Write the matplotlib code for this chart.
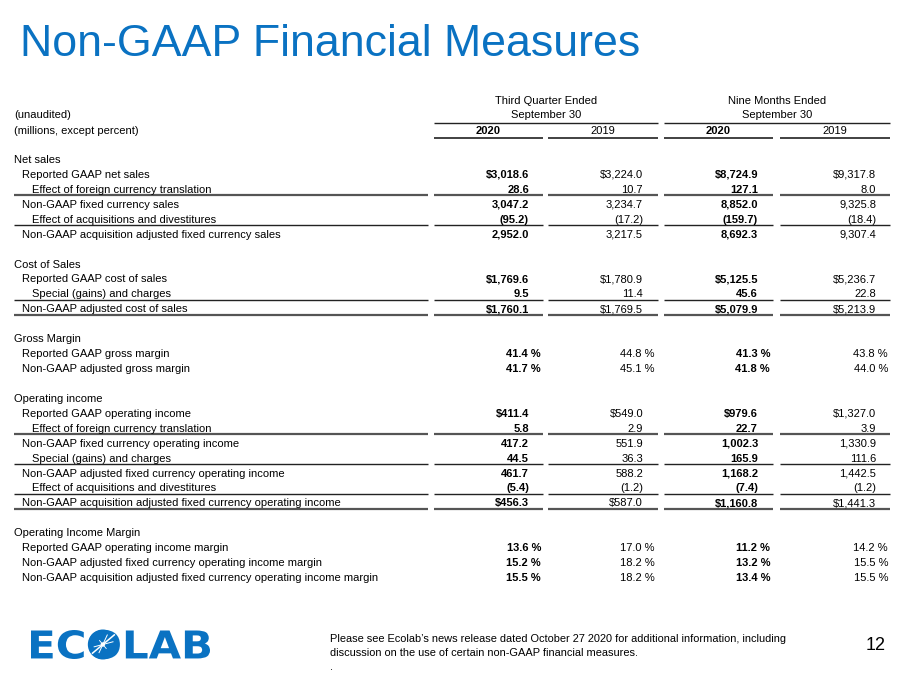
import matplotlib
matplotlib.use("Agg")
import matplotlib.pyplot as plt
from matplotlib.textpath import TextPath
from matplotlib.patches import PathPatch, Circle
from matplotlib.font_manager import FontProperties
from matplotlib.transforms import Affine2D
import numpy as np

plt.rcParams['font.family'] = ['Liberation Sans', 'DejaVu Sans']

# ---------------- data ----------------
title = "Non-GAAP Financial Measures"
group_headers = ["Third Quarter Ended", "Nine Months Ended"]
group_sub = "September 30"
year_headers = ["2020", "2019", "2020", "2019"]

row_labels = [
    "Net sales",
    "Reported GAAP net sales",
    "Effect of foreign currency translation",
    "Non-GAAP fixed currency sales",
    "Effect of acquisitions and divestitures",
    "Non-GAAP acquisition adjusted fixed currency sales",
    "",
    "Cost of Sales",
    "Reported GAAP cost of sales",
    "Special (gains) and charges",
    "Non-GAAP adjusted cost of sales",
    "",
    "Gross Margin",
    "Reported GAAP gross margin",
    "Non-GAAP adjusted gross margin",
    "",
    "Operating income",
    "Reported GAAP operating income",
    "Effect of foreign currency translation",
    "Non-GAAP fixed currency operating income",
    "Special (gains) and charges",
    "Non-GAAP adjusted fixed currency operating income",
    "Effect of acquisitions and divestitures",
    "Non-GAAP acquisition adjusted fixed currency operating income",
    "",
    "Operating Income Margin",
    "Reported GAAP operating income margin",
    "Non-GAAP adjusted fixed currency operating income margin",
    "Non-GAAP acquisition adjusted fixed currency operating income margin",
]
row_indent = [0, 1, 2, 1, 2, 1, 0, 0, 1, 2, 1, 0, 0, 1, 1, 0, 0, 1, 2, 1, 2, 1, 2, 1, 0, 0, 1, 1, 1]
row_format = ['hdr', '$', 'n', 'n', 'n', 'n', None, 'hdr', '$', 'n', '$', None, 'hdr', '%', '%', None,
              'hdr', '$', 'n', 'n', 'n', 'n', 'n', '$', None, 'hdr', '%', '%', '%']

q3_2020 = [None, 3018.6, 28.6, 3047.2, -95.2, 2952.0, None, None, 1769.6, 9.5, 1760.1, None, None, 41.4, 41.7, None,
           None, 411.4, 5.8, 417.2, 44.5, 461.7, -5.4, 456.3, None, None, 13.6, 15.2, 15.5]
q3_2019 = [None, 3224.0, 10.7, 3234.7, -17.2, 3217.5, None, None, 1780.9, 11.4, 1769.5, None, None, 44.8, 45.1, None,
           None, 549.0, 2.9, 551.9, 36.3, 588.2, -1.2, 587.0, None, None, 17.0, 18.2, 18.2]
nm_2020 = [None, 8724.9, 127.1, 8852.0, -159.7, 8692.3, None, None, 5125.5, 45.6, 5079.9, None, None, 41.3, 41.8, None,
           None, 979.6, 22.7, 1002.3, 165.9, 1168.2, -7.4, 1160.8, None, None, 11.2, 13.2, 13.4]
nm_2019 = [None, 9317.8, 8.0, 9325.8, -18.4, 9307.4, None, None, 5236.7, 22.8, 5213.9, None, None, 43.8, 44.0, None,
           None, 1327.0, 3.9, 1330.9, 111.6, 1442.5, -1.2, 1441.3, None, None, 14.2, 15.5, 15.5]
columns = [q3_2020, q3_2019, nm_2020, nm_2019]
col_bold = [True, False, True, False]

rules = [(3, 'above', 'g'), (5, 'above', 'k'),
         (10, 'above', 'k'), (10, 'below', 'g'),
         (19, 'above', 'g'), (21, 'above', 'k'), (23, 'above', 'k'), (23, 'below', 'g')]

footnote = ["Please see Ecolab\u2019s news release dated October 27 2020 for additional information, including",
            "discussion on the use of certain non-GAAP financial measures.",
            "."]
page_no = "12"

# ---------------- layout ----------------
BLUE = '#0A72C2'
W, H = 900, 675
fig = plt.figure(figsize=(9, 6.75), dpi=100)
ax = fig.add_axes([0, 0, 1, 1])
ax.set_xlim(0, W)
ax.set_ylim(H, 0)
ax.axis('off')

ax.text(20, 56, title, fontsize=32.2, color=BLUE, va='baseline', ha='left')

FS = 8.0
y0, dy = 158.0, 14.93
BASE = 5.0
label_x = [14, 22, 32]
col_right = [529, 643, 758, 876]
col_seg = [(434, 543), (548, 658), (664, 773), (780, 890)]
label_seg = (14, 428)

# header
hb = [104.3, 117.8, 134.0]
ax.text(14, hb[1], "(unaudited)", fontsize=FS, va='baseline')
ax.text(14, hb[2], "(millions, except percent)", fontsize=FS, va='baseline')
for g, (a, b) in enumerate([(col_seg[0][0], col_seg[1][1]), (col_seg[2][0], col_seg[3][1])]):
    cx = (a + b) / 2
    ax.text(cx, hb[0], group_headers[g], fontsize=FS, ha='center', va='baseline')
    ax.text(cx, hb[1], group_sub, fontsize=FS, ha='center', va='baseline')
    ax.plot([a, b], [122.5, 122.5], color='#222222', lw=1.0, solid_capstyle='butt')
for i, (a, b) in enumerate(col_seg):
    ax.text((a + b) / 2, hb[2], year_headers[i], fontsize=FS, ha='center', va='baseline',
            fontweight='bold' if col_bold[i] else 'normal')
    ax.plot([a, b], [137.8, 137.8], color='#333333', lw=1.3, solid_capstyle='butt')


def fmt(v, f):
    s = f"{abs(v):,.1f}"
    if f == '$':
        s = '$' + s
    if v < 0:
        s = '(' + s + ')'
    return s


for r, lab in enumerate(row_labels):
    yb = y0 + r * dy + BASE
    if lab:
        ax.text(label_x[row_indent[r]], yb, lab, fontsize=FS, va='baseline', ha='left')
    f = row_format[r]
    if f in ('$', 'n', '%'):
        for c, col in enumerate(columns):
            v = col[r]
            w = 'bold' if col_bold[c] else 'normal'
            if f == '%':
                ax.text(col_right[c] + 12, yb, f"{v:.1f} %", fontsize=FS, va='baseline', ha='right', fontweight=w)
            else:
                ax.text(col_right[c], yb, fmt(v, f), fontsize=FS, va='baseline', ha='right', fontweight=w)

for r, pos, st in rules:
    y = y0 + r * dy + (-7.3 if pos == 'above' else 7.8)
    color, lw = ('#555555', 1.6) if st == 'g' else ('#222222', 1.0)
    for a, b in [label_seg] + col_seg:
        ax.plot([a, b], [y, y], color=color, lw=lw, solid_capstyle='butt')

# footer
for i, line in enumerate(footnote):
    ax.text(330, 641.5 + i * 14.5, line, fontsize=7.9, va='baseline', ha='left')
ax.text(886, 645, page_no, fontsize=13, va='center', ha='right')

# logo
fp = FontProperties(family='DejaVu Sans', weight='bold')
tp = TextPath((0, 0), "ECOLAB", size=10, prop=fp)
bb = tp.get_extents()
lx0, lx1, ltop, lbot = 31, 210, 630, 659
sx = (lx1 - lx0) / bb.width
sy = (lbot - ltop) / bb.height
tr = Affine2D().translate(-bb.x0, -bb.y0).scale(sx, -sy).translate(lx0, lbot)
ax.add_patch(PathPatch(tr.transform_path(tp), fc=BLUE, ec='none', lw=0))
ec_bb = TextPath((0, 0), "EC", size=10, prop=fp).get_extents()
eco_bb = TextPath((0, 0), "ECO", size=10, prop=fp).get_extents()
o_left = lx0 + (ec_bb.x1 - bb.x0) * sx + 2
o_right = lx0 + (eco_bb.x1 - bb.x0) * sx
cx, cy = (o_left + o_right) / 2, (ltop + lbot) / 2
rad = (lbot - ltop) / 2 + 0.5
ax.add_patch(Circle((cx, cy), rad, fc=BLUE, ec='none'))
for ang, ln, lw in [(40, 1.0, 1.1), (220, 0.9, 1.1), (65, 0.7, 0.7), (15, 0.7, 0.7),
                    (245, 0.6, 0.7), (195, 0.6, 0.7), (130, 0.35, 0.6), (310, 0.35, 0.6)]:
    a = np.deg2rad(ang)
    ax.plot([cx, cx + ln * rad * np.cos(a)], [cy, cy - ln * rad * np.sin(a)], color='white', lw=lw)
ax.add_patch(Circle((cx, cy), 2.2, fc='white', ec='none'))

fig.savefig("out.png", dpi=100)
